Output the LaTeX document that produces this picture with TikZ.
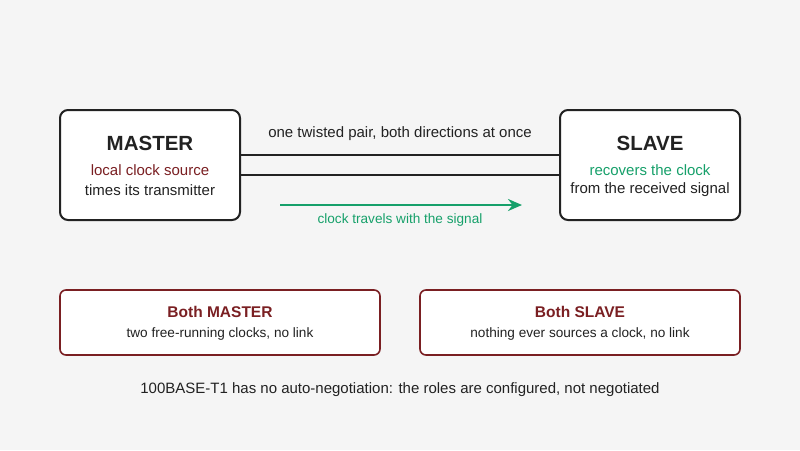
\documentclass[tikz,border=0pt]{standalone}
\usepackage{fontspec}
\setmainfont{Liberation Sans}
\usetikzlibrary{arrows.meta}
\definecolor{bg}{HTML}{F5F5F5}
\definecolor{dred}{HTML}{7A1F22}
\definecolor{grn}{HTML}{16A06A}
\definecolor{ink}{HTML}{222222}
\begin{document}
\begin{tikzpicture}[x=1pt,y=-1pt,
  box/.style={draw=ink,line width=2pt,fill=white,rounded corners=8pt},
  rbox/.style={draw=dred,line width=1.6pt,fill=white,rounded corners=6pt},
  txt/.style={font=\fontsize{15}{18}\selectfont,text=ink}]
\fill[bg] (0,0) rectangle (800,450);
\useasboundingbox (0,0) rectangle (800,450);
\draw[box] (60,110) rectangle (240,220);
\draw[box] (560,110) rectangle (740,220);
\node (m) at (150,143) {\fontsize{20.5}{24}\selectfont\bfseries\color{ink}MASTER};
\node[txt,text=dred] (m1) at (150,170) {local clock source};
\node[txt] (m2) at (150,190) {times its transmitter};
\node (s) at (650,143) {\fontsize{20.5}{24}\selectfont\bfseries\color{ink}SLAVE};
\node[txt,text=grn] (s1) at (650,170) {recovers the clock};
\node[txt] (s2) at (650,190) {from the received signal};
\coordinate (a1) at (241,155); \coordinate (b1) at (559,155);
\coordinate (a2) at (241,175); \coordinate (b2) at (559,175);
\draw[ink,line width=2.5pt] (a1) -- (b1);
\draw[ink,line width=2.5pt] (a2) -- (b2);
\node[txt] (tp) at (400,134) {one twisted pair, both directions at once};
\coordinate (g1) at (280,205); \coordinate (g2) at (522,205);
\draw[grn,line width=2.5pt,-{Stealth[length=14pt,width=12pt]}] (g1) -- (g2);
\node[txt,text=grn,font=\fontsize{13.6}{16}\selectfont] (gl) at (400,220) {clock travels with the signal};
\draw[rbox] (60,290) rectangle (380,355);
\draw[rbox] (420,290) rectangle (740,355);
\node[text=dred,font=\fontsize{15.5}{18}\selectfont\bfseries] (bm) at (220,312) {Both MASTER};
\node[txt,font=\fontsize{13.6}{16}\selectfont] (bm2) at (220,334) {two free-running clocks, no link};
\node[text=dred,font=\fontsize{15.5}{18}\selectfont\bfseries] (bs) at (580,312) {Both SLAVE};
\node[txt,font=\fontsize{13.6}{16}\selectfont] (bs2) at (580,334) {nothing ever sources a clock, no link};
\node[txt] (f) at (400,390) {100BASE-T1 has no auto-negotiation: the roles are configured, not negotiated};
\end{tikzpicture}
\end{document}
